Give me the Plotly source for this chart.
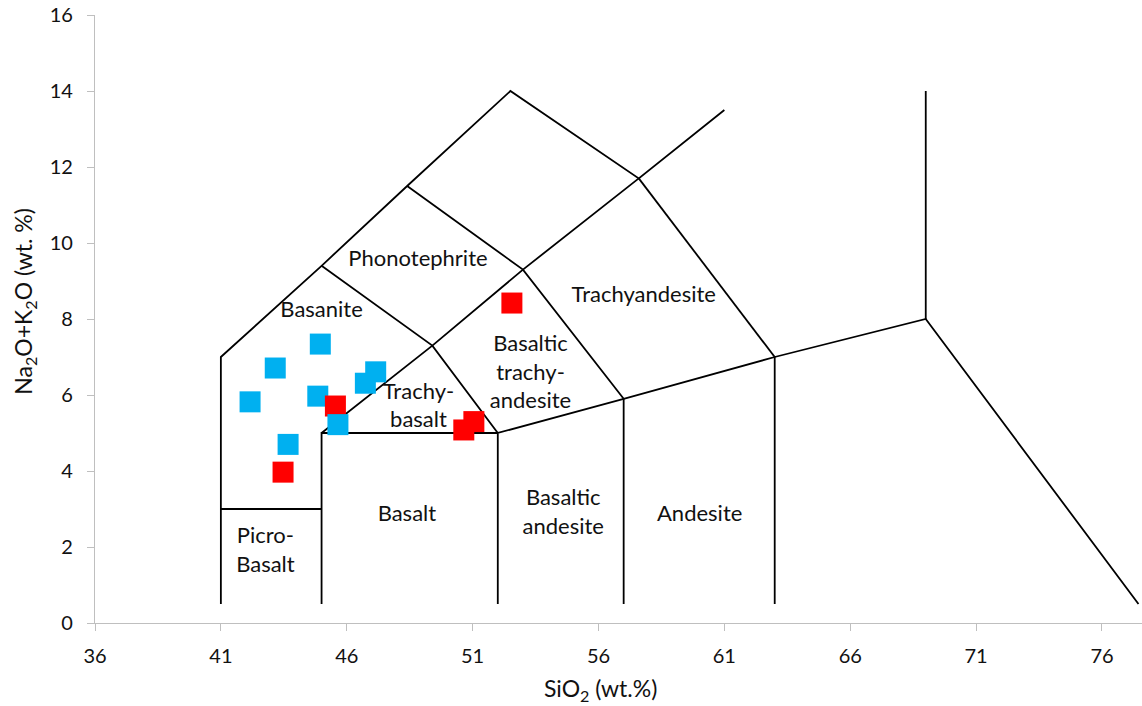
import plotly.graph_objects as go

# ---- data ----
blue_x = [44.95, 43.16, 42.16, 44.85, 43.67, 47.15, 46.74, 45.65]
blue_y = [7.34, 6.71, 5.82, 5.97, 4.70, 6.61, 6.31, 5.22]
red_x = [45.55, 43.47, 51.05, 50.65, 52.56]
red_y = [5.71, 3.97, 5.30, 5.08, 8.42]

# TAS field boundaries (SiO2, Na2O+K2O)
boundaries = [
    [(41, 0.5), (41, 7), (45, 9.4), (48.4, 11.5), (52.5, 14), (57.6, 11.7), (61, 13.5)],
    [(41, 3), (45, 3)],
    [(45, 0.5), (45, 5), (52, 5)],
    [(52, 0.5), (52, 5), (57, 5.9), (63, 7), (69, 8), (77.45, 0.5)],
    [(57, 0.5), (57, 5.9)],
    [(63, 0.5), (63, 7)],
    [(69, 8), (69, 14)],
    [(45, 9.4), (49.4, 7.3), (52, 5)],
    [(45, 5), (49.4, 7.3), (53, 9.3), (57.6, 11.7)],
    [(48.4, 11.5), (53, 9.3), (57, 5.9)],
    [(57.6, 11.7), (63, 7)],
]

field_names = ["Phonotephrite", "Trachyandesite", "Basanite", "Basaltic<br>trachy-<br>andesite",
               "Trachy-<br>basalt", "Basalt", "Basaltic<br>andesite", "Andesite", "Picro-<br>Basalt"]
field_x = [48.83, 57.80, 45.0, 53.30, 48.85, 48.39, 54.60, 60.02, 42.77]
field_y = [9.55, 8.59, 8.19, 6.55, 5.67, 2.84, 2.87, 2.84, 1.87]

x_ticks = [36, 41, 46, 51, 56, 61, 66, 71, 76]
y_ticks = [0, 2, 4, 6, 8, 10, 12, 14, 16]

FONT = "Lato"

# ---- figure ----
lx, ly = [], []
for seg in boundaries:
    for (a, b) in seg:
        lx.append(a)
        ly.append(b)
    lx.append(None)
    ly.append(None)

fig = go.Figure()
fig.add_trace(go.Scatter(x=lx, y=ly, mode="lines", line=dict(color="black", width=1.8),
                         hoverinfo="skip", showlegend=False))

marker_common = dict(symbol="square", size=21)
# blue points except the last (drawn beneath red), red, then last blue on top
fig.add_trace(go.Scatter(x=blue_x[:-1], y=blue_y[:-1], mode="markers",
                         marker=dict(color="#00B0F0", **marker_common), showlegend=False))
fig.add_trace(go.Scatter(x=red_x, y=red_y, mode="markers",
                         marker=dict(color="#FF0000", **marker_common), showlegend=False))
fig.add_trace(go.Scatter(x=blue_x[-1:], y=blue_y[-1:], mode="markers",
                         marker=dict(color="#00B0F0", **marker_common), showlegend=False))

fig.add_trace(go.Scatter(x=field_x, y=field_y, mode="text", text=field_names,
                         textfont=dict(family=FONT, size=22, color="#111111"),
                         hoverinfo="skip", showlegend=False))

fig.update_layout(
    width=1142, height=706,
    margin=dict(l=95, r=0, t=15, b=83),
    paper_bgcolor="white", plot_bgcolor="white",
    font=dict(family=FONT, color="#111111"),
    showlegend=False,
)
axis_common = dict(showgrid=False, zeroline=False, showline=True, linecolor="#BFBFBF",
                   linewidth=1.2, ticks="outside", ticklen=7, tickcolor="#BFBFBF", tickwidth=1,
                   automargin=False,
                   tickfont=dict(family=FONT, size=20, color="#111111"))
fig.update_xaxes(range=[36, 77.59], tickvals=x_ticks, ticktext=[str(v) for v in x_ticks],
                 ticklabelstandoff=8, **axis_common)
fig.update_yaxes(range=[0, 16], tickvals=y_ticks, ticktext=[str(v) for v in y_ticks],
                 ticklabelstandoff=10, **axis_common)

fig.add_annotation(text="SiO<sub>2</sub> (wt.%)", xref="paper", yref="paper",
                   x=(600.5 - 95) / 1047, y=-(689 - 623) / 608, showarrow=False,
                   xanchor="center", yanchor="middle",
                   font=dict(family=FONT, size=23, color="#111111"))
fig.add_annotation(text="Na<sub>2</sub>O+K<sub>2</sub>O (wt. %)", xref="paper", yref="paper",
                   x=-(95 - 25) / 1047, y=(623 - 301.7) / 608, showarrow=False, textangle=-90,
                   xanchor="center", yanchor="middle",
                   font=dict(family=FONT, size=23, color="#111111"))

fig.write_html("out.html", config={"displayModeBar": False},
               post_script="document.body.style.margin='0';document.body.style.padding='0';")
